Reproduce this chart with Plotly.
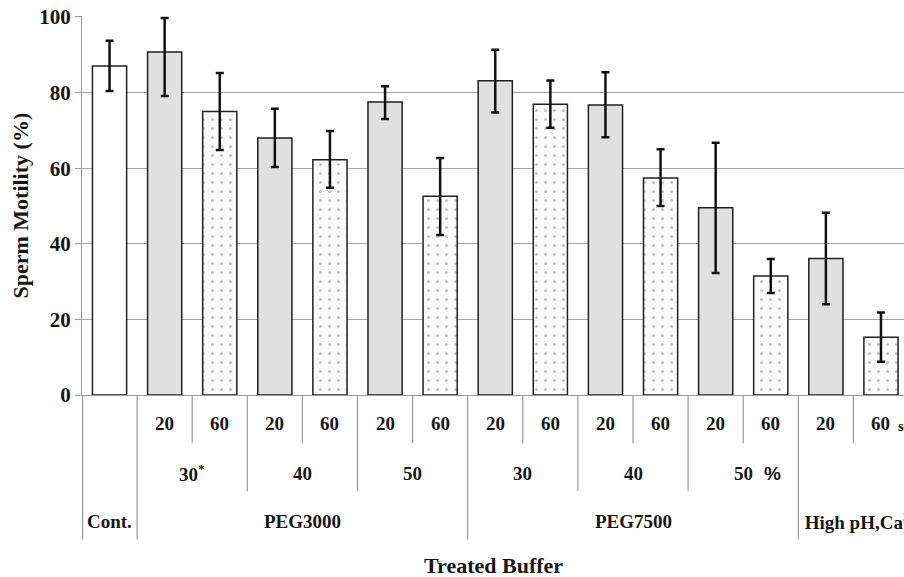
import plotly.graph_objects as go

# ---- data ----
bar_labels = ["Cont.",
              "PEG3000 30% 20 s", "PEG3000 30% 60 s",
              "PEG3000 40% 20 s", "PEG3000 40% 60 s",
              "PEG3000 50% 20 s", "PEG3000 50% 60 s",
              "PEG7500 30% 20 s", "PEG7500 30% 60 s",
              "PEG7500 40% 20 s", "PEG7500 40% 60 s",
              "PEG7500 50% 20 s", "PEG7500 50% 60 s",
              "High pH,Ca 20 s", "High pH,Ca 60 s"]
motility = [87.0, 90.7, 75.0, 68.0, 62.2, 77.5, 52.6, 83.1, 76.9, 76.7, 57.4, 49.5, 31.5, 36.1, 15.3]
err_upper = [93.7, 99.7, 85.2, 75.7, 69.8, 81.7, 62.7, 91.3, 83.2, 85.4, 65.0, 66.7, 36.0, 48.2, 21.8]
err_lower = [80.4, 79.1, 64.8, 60.3, 54.8, 73.0, 42.3, 74.7, 70.7, 68.2, 50.0, 32.3, 27.0, 24.0, 8.8]
bar_kind = ["control"] + ["20", "60"] * 7

time_labels = ["", "20", "60", "20", "60", "20", "60", "20", "60", "20", "60", "20", "60", "20", "60"]
conc_labels = ["30", "40", "50", "30", "40", "50"]
conc_centers = [1.5, 3.5, 5.5, 7.5, 9.5, 11.5]
buffer_labels = ["Cont.", "PEG3000", "PEG7500"]
buffer_centers = [0, 3.5, 9.5]
y_ticks = [0, 20, 40, 60, 80, 100]

FONT = "Liberation Serif, Times New Roman, serif"
TXT = "#161616"

fig = go.Figure()

styles = {
    "control": dict(color="#ffffff", pattern=dict(shape="")),
    "20": dict(color="#e0e0e0", pattern=dict(shape="")),
    "60": dict(color="#fcfcfc", pattern=dict(shape=".", size=9, solidity=0.1,
                                           fgcolor="#8f8f8f", bgcolor="#fcfcfc")),
}
for kind in ["control", "20", "60"]:
    idx = [i for i, k in enumerate(bar_kind) if k == kind]
    fig.add_trace(go.Bar(
        x=idx,
        y=[motility[i] for i in idx],
        width=0.62,
        marker=dict(color=styles[kind]["color"], pattern=styles[kind]["pattern"],
                    line=dict(color="#202020", width=1.5)),
        error_y=dict(type="data", symmetric=False,
                     array=[err_upper[i] - motility[i] for i in idx],
                     arrayminus=[motility[i] - err_lower[i] for i in idx],
                     color="#111111", thickness=2.5, width=4),
        showlegend=False,
        hovertext=[bar_labels[i] for i in idx],
    ))

# ---- category separators below the axis ----
def vline(x, y1, xref="x"):
    fig.add_shape(type="line", xref=xref, yref="paper", x0=x, x1=x, y0=0, y1=y1,
                  line=dict(color="#9a9a9a", width=1.2), layer="above")

for b in [1.5, 3.5, 5.5, 7.5, 9.5, 11.5, 13.5]:
    vline(b, -0.127)
for b in [2.5, 4.5, 8.5, 10.5]:
    vline(b, -0.254)
for b in [0.5, 6.5, 12.5]:
    vline(b, -0.381)
vline(0.0007, -0.381, xref="paper")

ann = []
def label(x, y, text, size=19, xref="x", xanchor="center", family=FONT, angle=0):
    ann.append(dict(x=x, y=y, xref=xref, yref="paper", text=text, showarrow=False,
                    xanchor=xanchor, yanchor="middle", textangle=angle,
                    font=dict(family=family, size=size, color=TXT, weight="bold")))

for i, t in enumerate(time_labels):
    if t:
        label(i, -0.074, t)
label(14.37, -0.082, "s", size=15)

for j, (c, xc) in enumerate(zip(conc_labels, conc_centers)):
    label(xc, -0.206, c + ("<sup>*</sup>" if j == 0 else ""))
label(12.03, -0.206, "%", family="Liberation Sans, Arial, sans-serif", size=19)

for b, xc in zip(buffer_labels, buffer_centers):
    label(xc, -0.333, b)
label(12.5, -0.333, " High pH,Ca<sup>2+</sup>", xanchor="left")

label(0.5, -0.450, "Treated Buffer", size=22, xref="paper")
label(-0.0754, 0.5, "Sperm Motility (%)", size=22, xref="paper", angle=-90)

fig.update_layout(
    width=904, height=577,
    margin=dict(l=82, r=0, t=16, b=182),
    paper_bgcolor="white", plot_bgcolor="white",
    barmode="overlay",
    annotations=ann,
    xaxis=dict(range=[-0.5, 14.418], showticklabels=False, ticks="",
               showgrid=False, zeroline=False, showline=True,
               linecolor="#9a9a9a", linewidth=1.2, fixedrange=True),
    yaxis=dict(range=[0, 100.25], tickvals=y_ticks, ticks="outside", ticklen=6,
               tickcolor="#9a9a9a", showgrid=True, gridcolor="#a8a8a8", gridwidth=1.2,
               zeroline=False, showline=True, linecolor="#9a9a9a", linewidth=1.2,
               tickfont=dict(family=FONT, size=21, color=TXT, weight="bold"),
               ticklabeloverflow="allow", fixedrange=True),
)

fig.write_html(
    "out.html",
    config={"displayModeBar": False},
    post_script="document.body.style.margin='0';"
                "document.body.style.overflow='hidden';"
                "document.documentElement.style.overflow='hidden';",
)
